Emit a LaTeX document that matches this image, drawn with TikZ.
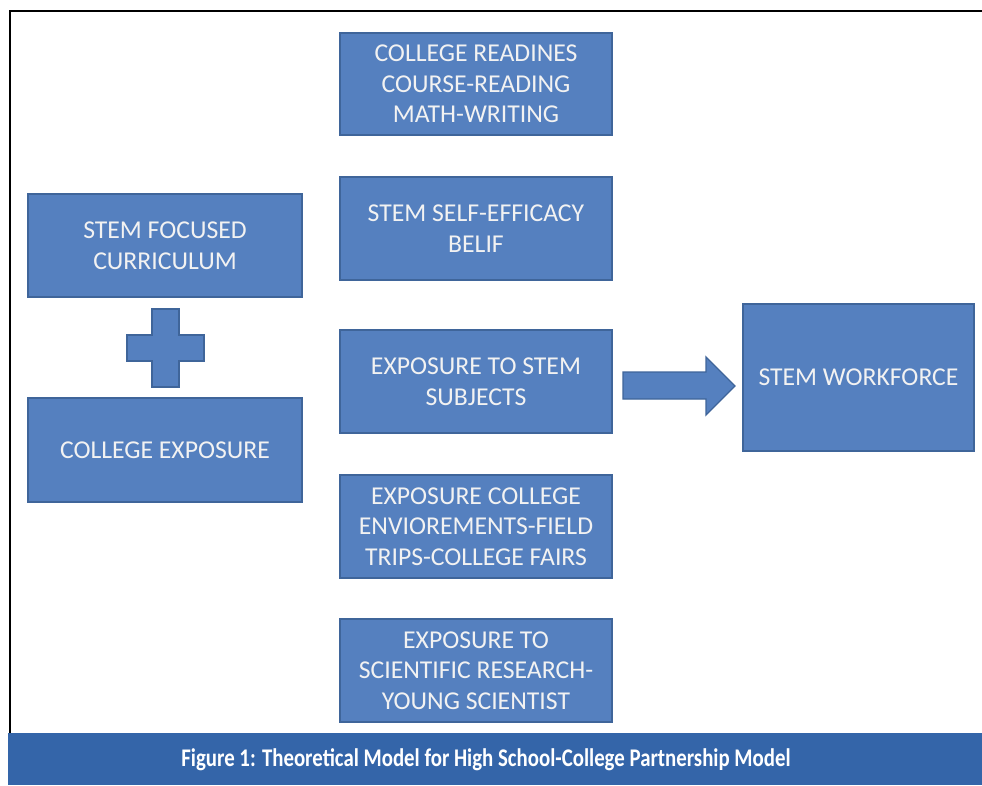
\documentclass[tikz,border=0pt]{standalone}
\usepackage{fontspec}
\setmainfont{Carlito}
\newfontfamily\capfont[FakeStretch=0.82]{Carlito}
\definecolor{boxblue}{HTML}{5580BF}
\definecolor{boxedge}{HTML}{3F659A}
\definecolor{txt}{HTML}{F2F2F2}
\definecolor{barblue}{HTML}{3465A9}
\begin{document}
\begin{tikzpicture}[x=1pt,y=-1pt,
  blk/.style={draw=boxedge,line width=1.3pt,fill=boxblue,text=txt,align=center,
    inner sep=0pt,font=\fontsize{25.7}{30.5}\selectfont},
  frameline/.style={line width=1.8pt,black}]
\useasboundingbox (0,0) rectangle (982,785);
\fill[white] (0,0) rectangle (982,785);
% frame
\draw[frameline] (10,740) -- (10,11) -- (982,11);
% left column
\node[blk,minimum width=274pt,minimum height=103pt] (sf) at (165,245.5) {STEM FOCUSED\\CURRICULUM};
\node[blk,minimum width=274pt,minimum height=104pt] (ce) at (165,450) {COLLEGE EXPOSURE};
% plus sign
\filldraw[fill=boxblue,draw=boxedge,line width=1.3pt]
  (152,309) -- (179,309) -- (179,335) -- (204,335) -- (204,361) -- (179,361) -- (179,387)
  -- (152,387) -- (152,361) -- (127,361) -- (127,335) -- (152,335) -- cycle;
% middle column
\node[blk,minimum width=272pt,minimum height=102pt] (cr) at (476,84) {COLLEGE READINES\\COURSE-READING\\MATH-WRITING};
\node[blk,minimum width=272pt,minimum height=103pt] (se) at (476,228.5) {STEM SELF-EFFICACY\\BELIF};
\node[blk,minimum width=272pt,minimum height=103pt] (es) at (476,381.5) {EXPOSURE TO STEM\\SUBJECTS};
\node[blk,minimum width=272pt,minimum height=103pt] (env) at (476,526.5) {EXPOSURE COLLEGE\\ENVIOREMENTS-FIELD\\TRIPS-COLLEGE FAIRS};
\node[blk,minimum width=272pt,minimum height=103pt] (res) at (476,670.5) {EXPOSURE TO\\SCIENTIFIC RESEARCH-\\YOUNG SCIENTIST};
% right
\node[blk,minimum width=231pt,minimum height=147pt] (sw) at (858.5,377.5) {STEM WORKFORCE};
% block arrow
\filldraw[fill=boxblue,draw=boxedge,line width=1.3pt]
  (623,372) -- (706,372) -- (706,357) -- (735,386) -- (706,415) -- (706,399) -- (623,399) -- cycle;
% caption bar
\fill[barblue] (8,733) rectangle (982,785);
\node[text=white,font=\capfont\bfseries\fontsize{25.4}{28}\selectfont] (cap) at (486,760)
  {Figure 1: Theoretical Model for High School-College Partnership Model};
\end{tikzpicture}
\end{document}
